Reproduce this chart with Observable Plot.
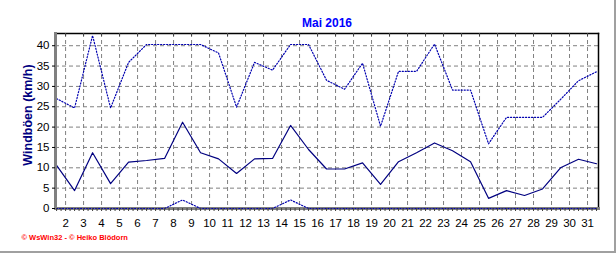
<!DOCTYPE html>
<html>
<head>
<meta charset="utf-8">
<script src="https://cdn.jsdelivr.net/npm/d3@7"></script>
<script src="https://cdn.jsdelivr.net/npm/@observablehq/plot@0.6"></script>
<style>
  html, body { margin: 0; padding: 0; background: #fff; }
  #wrap { width: 614px; height: 251px; border-right: 2px solid #a0a0a0; border-bottom: 2px solid #a0a0a0; overflow: hidden; }
  svg { display: block; }
</style>
</head>
<body>
<div id="wrap"></div>
<script>
const title = "Mai 2016";
const yLabel = "Windböen (km/h)";
const caption = "© WsWin32 - © Heiko Blödorn";
const days = d3.range(1, 32);
const gustMax  = [27.0,24.7,42.5,24.7,35.9,40.3,40.3,40.3,40.3,38.2,24.9,35.9,34.0,40.3,40.3,31.5,29.3,35.7,20.2,33.7,33.7,40.4,29.1,29.1,15.9,22.4,22.4,22.4,26.8,31.4,33.6];
const gustMean = [10.6,4.4,13.7,6.1,11.4,11.8,12.3,21.2,13.7,12.2,8.6,12.2,12.3,20.4,14.5,9.7,9.7,11.2,5.9,11.5,13.7,16.1,14.2,11.5,2.5,4.4,3.2,4.8,10.0,12.1,11.0];
const gustMin  = [0,0,0,0,0,0,0,2.1,0,0,0,0,0,2.1,0,0,0,0,0,0,0,0,0,0,0,0,0,0,0,0,0];
const xTickLabels = d3.range(2, 32);
const yTicks = d3.range(0, 45, 5);

const pos = d => d + 0.5; // daily value plotted at mid-day
const rows = days.map((d, i) => ({day: d, max: gustMax[i], mean: gustMean[i], min: gustMin[i]}));
const quarters = d3.range(1.5, 31.6, 0.25);

const font = "Liberation Sans, Arial, sans-serif";
const gridStyle = {stroke: "#808080", strokeOpacity: 1, strokeDasharray: "4,3", strokeWidth: 1};

const chart = Plot.plot({
  width: 614,
  height: 251,
  marginTop: 33,
  marginBottom: 43,
  marginLeft: 55,
  marginRight: 16,
  style: {fontFamily: font, fontSize: "11px", background: "#fff", color: "#000"},
  x: {domain: [1.44, 31.61]},
  y: {domain: [0, 43]},
  marks: [
    Plot.gridX(xTickLabels, gridStyle),
    Plot.gridY(yTicks.filter(v => v > 0), gridStyle),
    Plot.line(rows, {x: d => pos(d.day), y: "max", stroke: "#0000b0", strokeWidth: 1.2, strokeDasharray: "1.2,1.8"}),
    Plot.line(rows, {x: d => pos(d.day), y: "mean", stroke: "#000080", strokeWidth: 1.2}),
    Plot.frame({anchor: "top", stroke: "#000", strokeWidth: 1.5}),
    Plot.frame({anchor: "right", stroke: "#000", strokeWidth: 1.5}),
    Plot.frame({anchor: "left", stroke: "#808080", strokeWidth: 3}),
    Plot.frame({anchor: "bottom", stroke: "#808080", strokeWidth: 3}),
    Plot.line(rows, {x: d => pos(d.day), y: "min", stroke: "#0000b0", strokeWidth: 1.2, strokeDasharray: "1.2,1.8"}),
    Plot.axisX(quarters, {anchor: "bottom", tickSize: 3, tickFormat: () => "", stroke: "#404040", label: null}),
    Plot.axisX(xTickLabels, {anchor: "bottom", tickSize: 0, tickPadding: 10, tickFormat: d => d, fill: "#000", fontSize: 11.5, label: null}),
    Plot.tickX(xTickLabels, {x: d => d, stroke: "#404040", insetBottom: 172}),
    Plot.axisY(yTicks, {anchor: "left", tickSize: 3, tickPadding: 3, fill: "#000", fontSize: 11.5, label: null}),
    Plot.text([title], {frameAnchor: "top", dy: -15, fill: "#0000ff", fontWeight: "bold", fontSize: 12, text: d => d}),
    Plot.text([yLabel], {frameAnchor: "left", textAnchor: "middle", dx: -28, dy: -6, rotate: -90, fill: "#000080", fontWeight: "bold", fontSize: 12.5, text: d => d}),
    Plot.text([caption], {frameAnchor: "bottom-left", dx: -34, dy: 31, textAnchor: "start", fill: "#ff0000", fontWeight: "bold", fontSize: 7.5, text: d => d})
  ]
});
document.getElementById("wrap").appendChild(chart);
</script>
</body>
</html>
